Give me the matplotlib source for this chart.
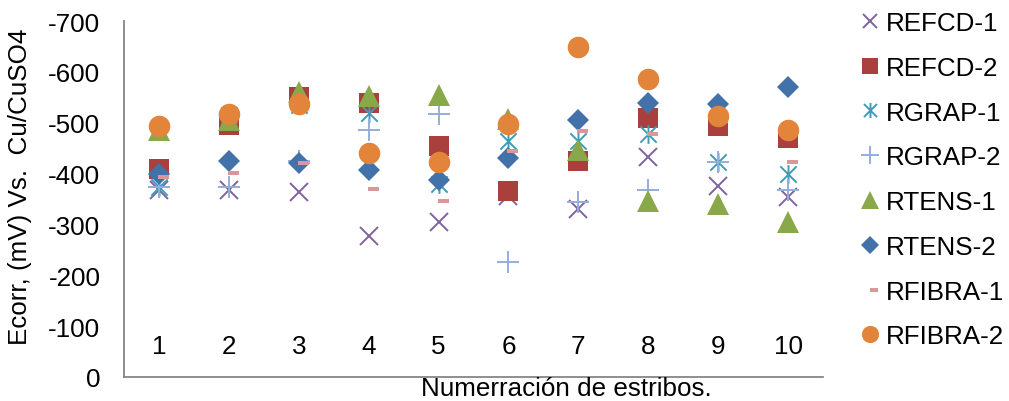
import matplotlib
matplotlib.use("Agg")
import matplotlib.pyplot as plt
from matplotlib.path import Path
import matplotlib.transforms as mtransforms

plt.rcParams['font.family'] = ['Liberation Sans', 'DejaVu Sans']
plt.rcParams['axes.unicode_minus'] = False

# Stirrup numbers and corrosion potentials (mV vs Cu/CuSO4)
estribos = [1, 2, 3, 4, 5, 6, 7, 8, 9, 10]
refcd_1 = [-367, -368, -363, -278, -304, -356, -330, -432, -376, -353]
refcd_2 = [-409, -495, -550, -539, -454, -366, -425, -509, -493, -469]
rgrap_1 = [-373, -515, -535, -520, -380, -465, -465, -478, -423, -399]
rgrap_2 = [-373, -373, -425, -486, -518, -227, -345, -368, -423, -368]
rtens_1 = [-486, -505, -560, -552, -554, -508, -446, -347, -340, -304]
rtens_2 = [-400, -425, -421, -408, -388, -430, -505, -538, -537, -571]
rfibra_1 = [-394, -402, -421, -370, -346, -444, -484, -478, -504, -422]
rfibra_2 = [-493, -517, -537, -440, -422, -497, -649, -586, -514, -486]
y_ticks = [-700, -600, -500, -400, -300, -200, -100, 0]

FS = 18.7

# Custom markers: asterisk (X with a vertical bar) and a short dash set off to the right
asterisk = Path([(-1, -1), (1, 1), (-1, 1), (1, -1), (0, -1.15), (0, 1.15)],
                [Path.MOVETO, Path.LINETO, Path.MOVETO, Path.LINETO, Path.MOVETO, Path.LINETO])
dash = Path([(-0.05, -0.24), (1.0, -0.24), (1.0, 0.24), (-0.05, 0.24), (-0.05, -0.24)],
            [Path.MOVETO, Path.LINETO, Path.LINETO, Path.LINETO, Path.CLOSEPOLY])

series = [
    ("REFCD-1", refcd_1, dict(marker='x', color='#7F63A1', ms=12.5, mew=1.4)),
    ("REFCD-2", refcd_2, dict(marker='s', color='#A9403E', ms=14.5, mew=0)),
    ("RGRAP-1", rgrap_1, dict(marker=asterisk, color='#3E9CB8', ms=13.5, mew=1.4)),
    ("RGRAP-2", rgrap_2, dict(marker='+', color='#94AEDA', ms=15.5, mew=1.4)),
    ("RTENS-1", rtens_1, dict(marker='^', color='#88A84A', ms=15.5, mew=0)),
    ("RTENS-2", rtens_2, dict(marker='D', color='#4371AA', ms=11.5, mew=0)),
    ("RFIBRA-1", rfibra_1, dict(marker=dash, color='#D9979A', ms=15, mew=0)),
    ("RFIBRA-2", rfibra_2, dict(marker='o', color='#E2843A', ms=15.5, mew=0)),
]

fig = plt.figure(figsize=(10.09, 4.02), dpi=100)
W, H = 1009, 402
ax = fig.add_axes([124 / W, (H - 378) / H, (823 - 124) / W, (378 - 22) / H])

handles = []
for name, vals, st in series:
    h, = ax.plot(estribos, vals, linestyle='none', marker=st['marker'], markersize=st['ms'],
                 markerfacecolor=st['color'], markeredgecolor=st['color'],
                 markeredgewidth=st['mew'], label=name)
    handles.append(h)

ax.set_xlim(0.5, 10.5)
ax.set_ylim(0, -700)
ax.set_yticks(y_ticks)
ax.set_yticklabels([str(v) for v in y_ticks])
ax.tick_params(axis='y', length=0, pad=17, labelsize=FS)
ax.set_xticks([])

# Category labels sit inside the plot, just above the baseline
trans = mtransforms.blended_transform_factory(ax.transData, ax.transAxes)
for e in estribos:
    ax.text(e, 31 / 356, str(e), transform=trans, ha='center', va='center', fontsize=FS)

for s in ('top', 'right'):
    ax.spines[s].set_visible(False)
for s in ('left', 'bottom'):
    ax.spines[s].set_color('#868686')
    ax.spines[s].set_linewidth(1.3)

fig.text(20 / W, 1 - 187 / H, "Ecorr, (mV) Vs.  Cu/CuSO4", rotation=90,
         ha='center', va='center', fontsize=FS)
fig.text(566 / W, 1 - 389 / H, "Numerración de estribos.", ha='center', va='center', fontsize=FS)

leg = fig.legend(handles=handles, loc='upper left', bbox_to_anchor=(860 / W, 1 - 12 / H),
                 frameon=False, fontsize=FS, borderpad=0, labelspacing=0.8,
                 handlelength=0.8, handletextpad=0.2, markerscale=0.8, borderaxespad=0)

fig.savefig("out.png", dpi=100)
